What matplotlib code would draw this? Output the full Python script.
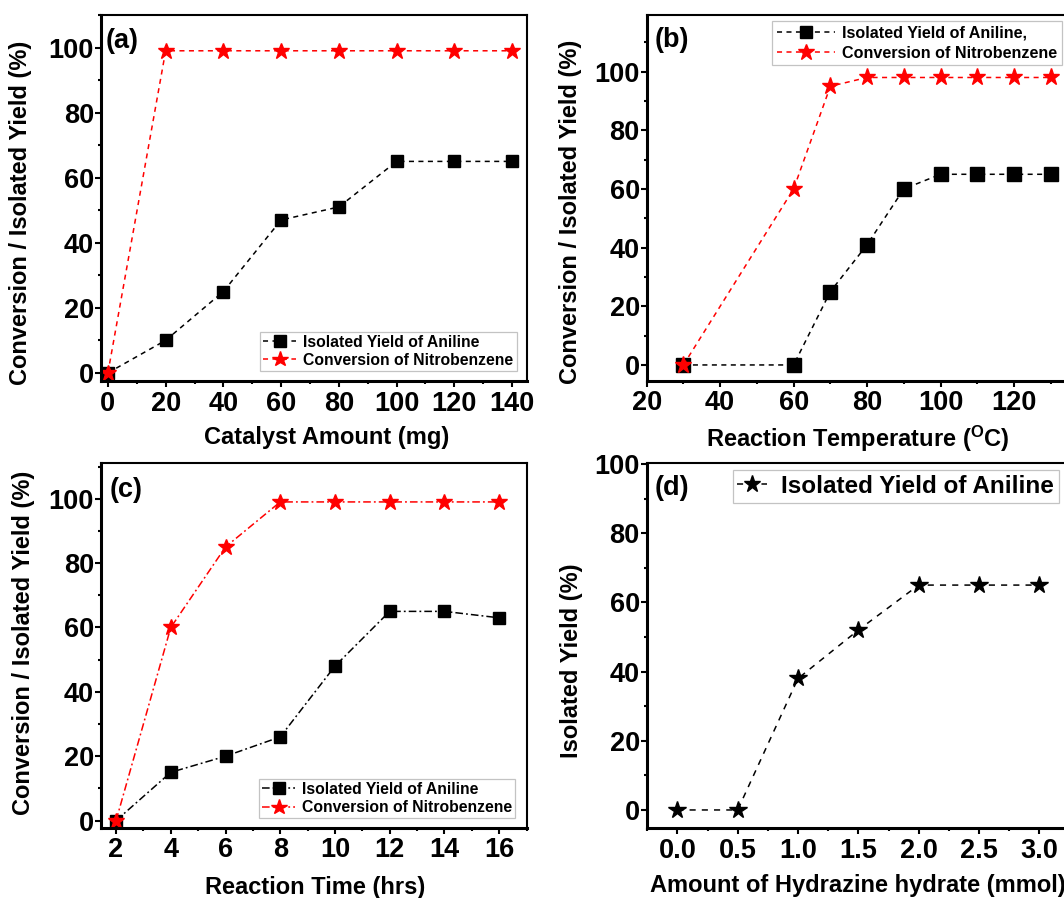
import matplotlib
matplotlib.use('Agg')
import matplotlib.pyplot as plt
from matplotlib.ticker import MultipleLocator, FormatStrFormatter

plt.rcParams['font.family'] = ['Liberation Sans', 'DejaVu Sans']
plt.rcParams['font.weight'] = 'bold'
plt.rcParams['mathtext.fontset'] = 'custom'
plt.rcParams['mathtext.rm'] = 'Liberation Sans:bold'
plt.rcParams['mathtext.bf'] = 'Liberation Sans:bold'
plt.rcParams['mathtext.it'] = 'Liberation Sans:bold'

# ---------------- data ----------------
cat_amount = [0, 20, 40, 60, 80, 100, 120, 140]
cat_yield = [0, 10, 25, 47, 51, 65, 65, 65]
cat_conv = [0, 99, 99, 99, 99, 99, 99, 99]

temp = [30, 60, 70, 80, 90, 100, 110, 120, 130]
temp_yield = [0, 0, 25, 41, 60, 65, 65, 65, 65]
temp_conv = [0, 60, 95, 98, 98, 98, 98, 98, 98]

time_hrs = [2, 4, 6, 8, 10, 12, 14, 16]
time_yield = [0, 15, 20, 26, 48, 65, 65, 63]
time_conv = [0, 60, 85, 99, 99, 99, 99, 99]

hydrazine = [0.0, 0.5, 1.0, 1.5, 2.0, 2.5, 3.0]
hyd_yield = [0, 0, 38, 52, 65, 65, 65]

lbl_yield = 'Isolated Yield of Aniline'
lbl_yield_b = 'Isolated Yield of Aniline,'
lbl_conv = 'Conversion of Nitrobenzene'
ylab = 'Conversion / Isolated Yield (%)'

# ---------------- layout ----------------
W, H = 1064, 898
fig = plt.figure(figsize=(W / 100, H / 100), dpi=100)


def add_ax(l, r, t, b):
    return fig.add_axes([l / W, 1 - b / H, (r - l) / W, (b - t) / H])


def style(ax, xlim, ylim, xmaj, xmin, ymaj, ymin):
    ax.set_xlim(*xlim)
    ax.set_ylim(*ylim)
    ax.xaxis.set_major_locator(MultipleLocator(xmaj))
    ax.xaxis.set_minor_locator(MultipleLocator(xmin))
    ax.yaxis.set_major_locator(MultipleLocator(ymaj))
    ax.yaxis.set_minor_locator(MultipleLocator(ymin))
    ax.tick_params(which='both', direction='out', top=False, right=False,
                   color='black')
    ax.tick_params(which='major', length=4, width=1.5, labelsize=19.5)
    ax.tick_params(axis='x', which='major', pad=3)
    ax.tick_params(axis='y', which='major', pad=1)
    ax.tick_params(which='minor', length=2.5, width=1.5)
    for s in ['left', 'bottom']:
        ax.spines[s].set_linewidth(2.2)
    for s in ['top', 'right']:
        ax.spines[s].set_linewidth(1.5)


def labels(ax, xl, yl, xc, yc, panel, pc, fs=17):
    ax.set_xlabel(xl, fontsize=fs, fontweight='bold', va='center')
    ax.set_ylabel(yl, fontsize=fs, fontweight='bold', va='center')
    ax.xaxis.set_label_coords(*xc)
    ax.yaxis.set_label_coords(*yc)
    ax.text(pc[0], pc[1], panel, transform=ax.transAxes, fontsize=19.5,
            fontweight='bold', ha='left', va='center')


def legend(ax, loc, anchor, size, hl=2.5, bp=0.2, ls=0.2, tp=0.45):
    leg = ax.legend(loc=loc, bbox_to_anchor=anchor, borderaxespad=0,
                    prop={'size': size, 'weight': 'bold'}, frameon=True,
                    fancybox=False, handlelength=hl, handletextpad=tp,
                    borderpad=bp, labelspacing=ls, markerscale=0.95)
    leg.get_frame().set_edgecolor('#b5b5b5')
    leg.get_frame().set_linewidth(0.9)
    return leg


dash = (0, (3.3, 2.9))
dashdot = (0, (5, 2, 1.2, 2))

# ---- (a) ----
axa = add_ax(101, 526.5, 15, 381)
axa.plot(cat_amount, cat_yield, color='black', ls=dash, lw=1.1, marker='s',
         ms=9, label=lbl_yield)
axa.plot(cat_amount, cat_conv, color='red', ls=dash, lw=1.1, marker='*',
         ms=12, label=lbl_conv)
style(axa, (-2.4, 145), (-2.5, 110), 20, 10, 20, 10)
labels(axa, 'Catalyst Amount (mg)', ylab, (0.5295, -0.155), (-0.189, 0.460),
       '(a)', (0.012, 0.929))
legend(axa, 'lower right', (0.9765, 0.027), 11.3, hl=2.1)

# ---- (b) ----
axb = add_ax(646.7, 1072.8, 15, 380.5)
axb.plot(temp, temp_yield, color='black', ls=dash, lw=1.1, marker='s',
         ms=9.5, label=lbl_yield_b)
axb.plot(temp, temp_conv, color='red', ls=dash, lw=1.1, marker='*',
         ms=12.5, label=lbl_conv)
style(axb, (20, 136), (-5.3, 119.3), 20, 10, 20, 10)
labels(axb, r'Reaction Temperature ($^{\mathbf{O}}$C)', ylab, (0.496, -0.160),
       (-0.178, 0.462), '(b)', (0.0195, 0.932))
legend(axb, 'upper right', (0.9747, 0.9836), 11.6, hl=3.6, bp=0.3, ls=0.3)

# ---- (c) ----
axc = add_ax(101, 526.5, 463.3, 827.7)
axc.plot(time_hrs, time_yield, color='black', ls=dashdot, lw=1.1, marker='s',
         ms=9, label=lbl_yield)
axc.plot(time_hrs, time_conv, color='red', ls=dashdot, lw=1.1, marker='*',
         ms=12, label=lbl_conv)
style(axc, (1.45, 17.0), (-2.2, 111), 2, 1, 20, 10)
labels(axc, 'Reaction Time (hrs)', ylab, (0.503, -0.164), (-0.183, 0.507),
       '(c)', (0.02, 0.927))
legend(axc, 'lower right', (0.974, 0.026), 11.3, hl=2.1)

# ---- (d) ----
axd = add_ax(646.7, 1069.5, 463.3, 828.3)
axd.plot(hydrazine, hyd_yield, color='black', ls=(0, (4, 4)), lw=1.1,
         marker='*', ms=13, label=lbl_yield)
style(axd, (-0.254, 3.25), (-5.3, 100.2), 0.5, 0.25, 20, 10)
axd.xaxis.set_major_formatter(FormatStrFormatter('%.1f'))
labels(axd, 'Amount of Hydrazine hydrate (mmol)', 'Isolated Yield (%)',
       (0.4986, -0.158), (-0.179, 0.458), '(d)', (0.0196, 0.931))
legend(axd, 'upper right', (0.975, 0.9816), 17.5, hl=1.2, tp=0.6)

fig.savefig('out.png', dpi=100)
